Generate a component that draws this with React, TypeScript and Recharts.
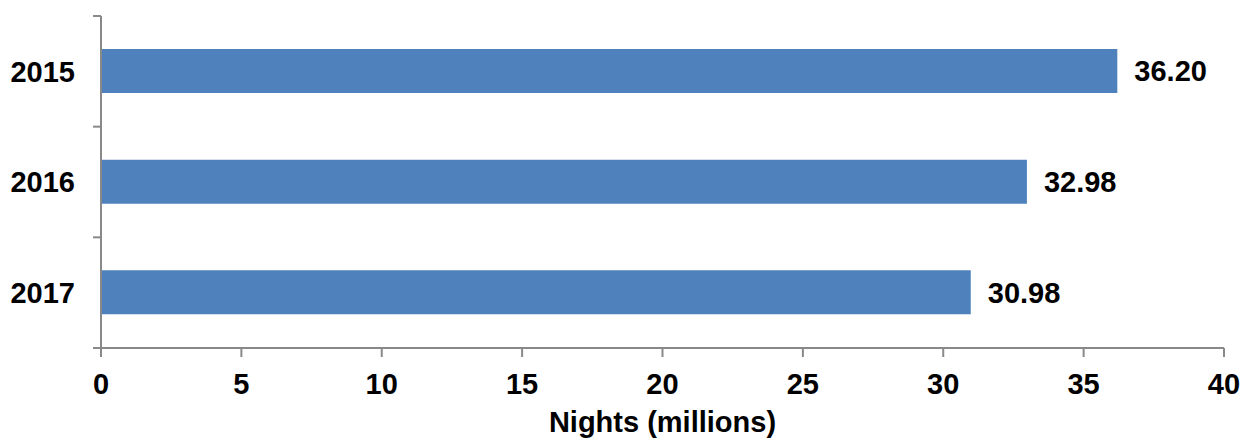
import React from "react";
import { BarChart, Bar, XAxis, YAxis, LabelList, Label } from "recharts";

// Nights spent, by year (millions)
const years = ["2015", "2016", "2017"];
const nights = [36.2, 32.98, 30.98];
const xTicks = [0, 5, 10, 15, 20, 25, 30, 35, 40];

const data = years.map((year, i) => ({ year, nights: nights[i] }));

const FONT = '"Liberation Sans", Arial, Helvetica, sans-serif';
const AXIS_COLOR = "#898989";
const BAR_COLOR = "#4F81BD";
const Y_TICK_SIZE = 8;
const Y_TICK_MARGIN = 18;

const tickStyle = { fontFamily: FONT, fontSize: 29, fontWeight: 700, fill: "#000" };

// Category tick: year label at the band centre, tick marks on the band edges
const YearTick = (props: any) => {
  const { x, y, payload, index } = props;
  const half = payload?.offset ?? 0;
  const axisX = x + Y_TICK_MARGIN + Y_TICK_SIZE;
  const isLast = index === years.length - 1;
  return (
    <g>
      <text x={x} y={y} dy="0.355em" textAnchor="end" style={tickStyle}>
        {payload.value}
      </text>
      <line
        x1={axisX - Y_TICK_SIZE}
        x2={axisX}
        y1={y - half}
        y2={y - half}
        stroke={AXIS_COLOR}
        strokeWidth={2}
      />
      {isLast && (
        <line
          x1={axisX - Y_TICK_SIZE}
          x2={axisX}
          y1={y + half}
          y2={y + half}
          stroke={AXIS_COLOR}
          strokeWidth={2}
        />
      )}
    </g>
  );
};

export default function App() {
  return (
    <div style={{ position: "absolute", left: 0, top: 0, background: "#fff" }}>
      <BarChart
        width={1245}
        height={439}
        data={data}
        layout="vertical"
        margin={{ top: 16, right: 21, bottom: 0, left: 0 }}
      >
        <XAxis
          type="number"
          domain={[0, 40]}
          ticks={xTicks}
          interval={0}
          height={91}
          stroke={AXIS_COLOR}
          strokeWidth={2}
          tickSize={9}
          tickMargin={16}
          tick={tickStyle}
          tickLine={{ stroke: AXIS_COLOR, strokeWidth: 2 }}
        >
          <Label
            value="Nights (millions)"
            position="insideBottom"
            offset={7}
            style={{ ...tickStyle }}
          />
        </XAxis>
        <YAxis
          type="category"
          dataKey="year"
          width={101}
          stroke={AXIS_COLOR}
          strokeWidth={2}
          tickSize={Y_TICK_SIZE}
          tickMargin={Y_TICK_MARGIN}
          tick={YearTick}
          tickLine={false}
        />
        <Bar dataKey="nights" fill={BAR_COLOR} barSize={44} isAnimationActive={false}>
          <LabelList
            dataKey="nights"
            position="right"
            offset={17}
            formatter={(v: number) => v.toFixed(2)}
            style={{ ...tickStyle }}
          />
        </Bar>
      </BarChart>
    </div>
  );
}
